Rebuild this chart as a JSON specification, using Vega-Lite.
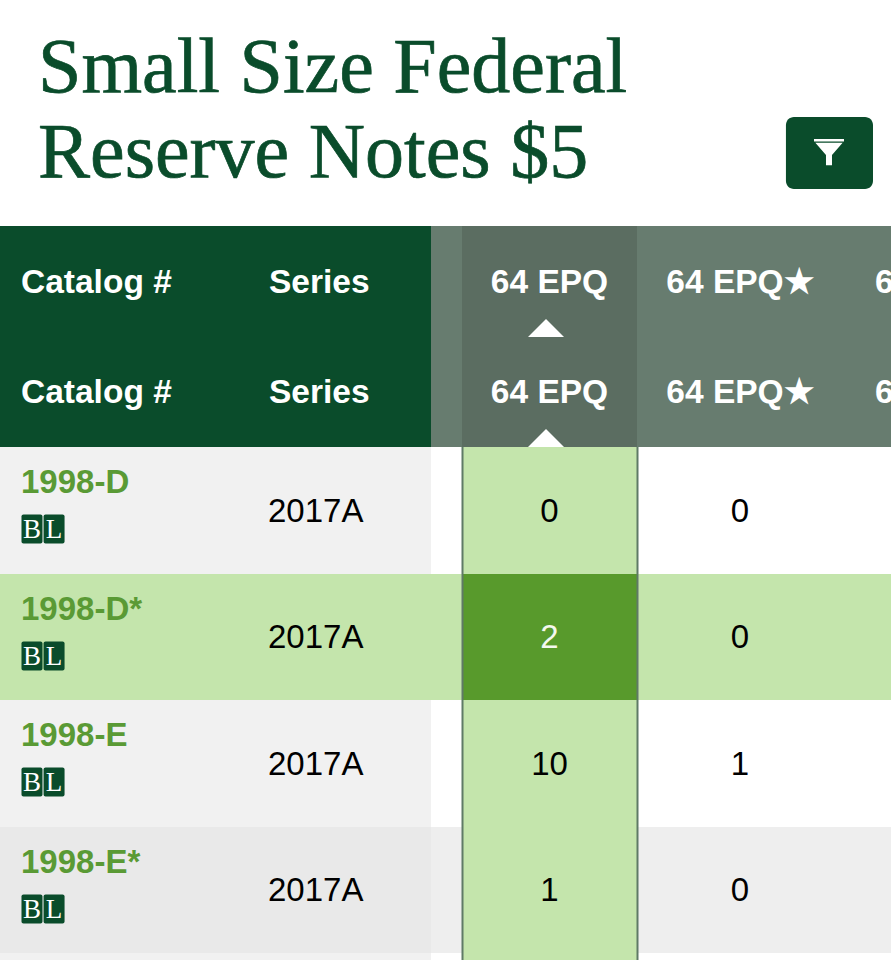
{
  "$schema": "https://vega.github.io/schema/vega-lite/v6.json",
  "width": 891,
  "height": 960,
  "padding": 0,
  "autosize": "none",
  "background": "white",
  "config": {"view": {"stroke": null}, "axis": {"disable": true}, "legend": {"disable": true}},
  "resolve": {"scale": {"color": "independent"}},
  "datasets": {
    "heading": [
      {"c": 0, "r": 0.407, "text": "Small Size Federal"},
      {"c": 0, "r": 0.783, "text": "Reserve Notes $5"}
    ],
    "filterButton": [
      {"c0": 4.723, "c1": 5.625, "r0": 0.518, "r1": 0.836, "c": 4.932, "r": 0.673}
    ],
    "cells": [
      {"c0": 0, "c1": 2, "r0": 1, "r1": 3, "state": "frozen header"},
      {"c0": 2, "c1": 3, "r0": 1, "r1": 3, "state": "header"},
      {"c0": 3, "c1": 4, "r0": 1, "r1": 3, "state": "sorted header"},
      {"c0": 4, "c1": 6, "r0": 1, "r1": 3, "state": "header"},
      {"c0": 0, "c1": 2, "r0": 3, "r1": 4, "state": "frozen"},
      {"c0": 3, "c1": 4, "r0": 3, "r1": 4, "state": "sorted"},
      {"c0": 0, "c1": 2, "r0": 4, "r1": 5, "state": "sorted"},
      {"c0": 2, "c1": 3, "r0": 4, "r1": 5, "state": "sorted"},
      {"c0": 3, "c1": 4, "r0": 4, "r1": 5, "state": "picked"},
      {"c0": 4, "c1": 6, "r0": 4, "r1": 5, "state": "sorted"},
      {"c0": 0, "c1": 2, "r0": 5, "r1": 6, "state": "frozen"},
      {"c0": 3, "c1": 4, "r0": 5, "r1": 6, "state": "sorted"},
      {"c0": 0, "c1": 2, "r0": 6, "r1": 7, "state": "frozen striped"},
      {"c0": 2, "c1": 3, "r0": 6, "r1": 7, "state": "striped"},
      {"c0": 3, "c1": 4, "r0": 6, "r1": 7, "state": "sorted"},
      {"c0": 4, "c1": 6, "r0": 6, "r1": 7, "state": "striped"},
      {"c0": 0, "c1": 2, "r0": 7, "r1": 8, "state": "frozen"},
      {"c0": 3, "c1": 4, "r0": 7, "r1": 8, "state": "sorted"}
    ],
    "columnEdges": [
      {"c": 3, "r0": 3, "r1": 8, "side": "left"},
      {"c": 4, "r0": 3, "r1": 8, "side": "right"}
    ],
    "headerLeft": [
      {"c": 0, "r": 1.5, "text": "Catalog #"},
      {"c": 1, "r": 1.5, "text": "Series"},
      {"c": 5.23, "r": 1.5, "text": "6"},
      {"c": 0, "r": 2.5, "text": "Catalog #"},
      {"c": 1, "r": 2.5, "text": "Series"},
      {"c": 5.23, "r": 2.5, "text": "6"}
    ],
    "headerCentre": [
      {"c": 3.5, "r": 1.5, "text": "64 EPQ"},
      {"c": 4.5, "r": 1.5, "text": "64 EPQ★"},
      {"c": 3.5, "r": 2.5, "text": "64 EPQ"},
      {"c": 4.5, "r": 2.5, "text": "64 EPQ★"}
    ],
    "sortArrows": [
      {"c": 3.5, "r": 2},
      {"c": 3.5, "r": 3}
    ],
    "catalog": [
      {"c": 0, "r": 3, "text": "1998-D"},
      {"c": 0, "r": 4, "text": "1998-D*"},
      {"c": 0, "r": 5, "text": "1998-E"},
      {"c": 0, "r": 6, "text": "1998-E*"}
    ],
    "badges": [
      {"c": 0.129, "r": 3, "letter": "B"},
      {"c": 0.218, "r": 3, "letter": "L"},
      {"c": 0.129, "r": 4, "letter": "B"},
      {"c": 0.218, "r": 4, "letter": "L"},
      {"c": 0.129, "r": 5, "letter": "B"},
      {"c": 0.218, "r": 5, "letter": "L"},
      {"c": 0.129, "r": 6, "letter": "B"},
      {"c": 0.218, "r": 6, "letter": "L"}
    ],
    "series": [
      {"c": 1, "r": 3.5, "text": "2017A"},
      {"c": 1, "r": 4.5, "text": "2017A"},
      {"c": 1, "r": 5.5, "text": "2017A"},
      {"c": 1, "r": 6.5, "text": "2017A"}
    ],
    "counts": [
      {"c": 3.5, "r": 3.5, "text": "0", "tone": "dark"},
      {"c": 4.5, "r": 3.5, "text": "0", "tone": "dark"},
      {"c": 3.5, "r": 4.5, "text": "2", "tone": "light"},
      {"c": 4.5, "r": 4.5, "text": "0", "tone": "dark"},
      {"c": 3.5, "r": 5.5, "text": "10", "tone": "dark"},
      {"c": 4.5, "r": 5.5, "text": "1", "tone": "dark"},
      {"c": 3.5, "r": 6.5, "text": "1", "tone": "dark"},
      {"c": 4.5, "r": 6.5, "text": "0", "tone": "dark"}
    ]
  },
  "layer": [
    {
      "data": {"name": "cells"},
      "mark": {"type": "rect"},
      "encoding": {
        "x": {"field": "c0", "type": "quantitative", "scale": {"domain": [0, 1, 2, 3, 4, 5, 6], "range": [0, 248, 431, 462, 637, 843, 891], "nice": false, "zero": false}},
        "x2": {"field": "c1"},
        "y": {"field": "r0", "type": "quantitative", "scale": {"domain": [0, 1, 2, 3, 4, 5, 6, 7, 8], "range": [0, 226, 337, 447, 574, 700, 827, 953, 960], "nice": false, "zero": false}},
        "y2": {"field": "r1"},
        "color": {
          "field": "state",
          "type": "nominal",
          "scale": {
            "domain": ["frozen header", "header", "sorted header", "frozen", "frozen striped", "striped", "sorted", "picked"],
            "range": ["#0a4c2b", "#677c6f", "#5b6d61", "#f1f1f1", "#e9e9e9", "#eeeeee", "#c4e5ac", "#589a2c"]
          }
        }
      }
    },
    {
      "data": {"name": "columnEdges"},
      "mark": {"type": "rule", "color": "#5f7a66", "strokeWidth": 2, "xOffset": 0.5},
      "encoding": {
        "x": {"field": "c", "type": "quantitative"},
        "y": {"field": "r0", "type": "quantitative"},
        "y2": {"field": "r1"}
      }
    },
    {
      "data": {"name": "heading"},
      "mark": {"type": "text", "align": "left", "baseline": "alphabetic", "dx": 38, "font": "Liberation Serif", "fontSize": 78, "color": "#0a4c2b", "stroke": "#0a4c2b", "strokeWidth": 0.7},
      "encoding": {
        "x": {"field": "c", "type": "quantitative"},
        "y": {"field": "r", "type": "quantitative"},
        "text": {"field": "text"}
      }
    },
    {
      "data": {"name": "filterButton"},
      "mark": {"type": "rect", "color": "#0a4c2b", "cornerRadius": 8},
      "encoding": {
        "x": {"field": "c0", "type": "quantitative"},
        "x2": {"field": "c1"},
        "y": {"field": "r0", "type": "quantitative"},
        "y2": {"field": "r1"}
      }
    },
    {
      "data": {"name": "filterButton"},
      "mark": {
        "type": "point",
        "filled": true,
        "opacity": 1,
        "color": "white",
        "size": 900,
        "shape": "M-1,-0.87L1,-0.87L1,-0.7L-1,-0.7ZM-0.91,-0.63L0.91,-0.63L0.2,0.2L0.2,0.87L-0.2,0.87L-0.2,0.2Z"
      },
      "encoding": {
        "x": {"field": "c", "type": "quantitative"},
        "y": {"field": "r", "type": "quantitative"}
      }
    },
    {
      "data": {"name": "headerLeft"},
      "mark": {"type": "text", "align": "left", "baseline": "middle", "dx": 21, "yOffset": 1, "font": "Liberation Sans", "fontWeight": "bold", "fontSize": 33.5, "color": "white"},
      "encoding": {
        "x": {"field": "c", "type": "quantitative"},
        "y": {"field": "r", "type": "quantitative"},
        "text": {"field": "text"}
      }
    },
    {
      "data": {"name": "headerCentre"},
      "mark": {"type": "text", "align": "center", "baseline": "middle", "yOffset": 1, "font": "Liberation Sans", "fontWeight": "bold", "fontSize": 33.5, "color": "white"},
      "encoding": {
        "x": {"field": "c", "type": "quantitative"},
        "y": {"field": "r", "type": "quantitative"},
        "text": {"field": "text"}
      }
    },
    {
      "data": {"name": "sortArrows"},
      "mark": {"type": "point", "filled": true, "opacity": 1, "color": "white", "size": 1296, "shape": "M-1,0L0,-1L1,0Z", "xOffset": -3.5},
      "encoding": {
        "x": {"field": "c", "type": "quantitative"},
        "y": {"field": "r", "type": "quantitative"}
      }
    },
    {
      "data": {"name": "catalog"},
      "mark": {"type": "text", "align": "left", "baseline": "middle", "dx": 21, "yOffset": 36, "font": "Liberation Sans", "fontWeight": "bold", "fontSize": 33, "color": "#5a9a35"},
      "encoding": {
        "x": {"field": "c", "type": "quantitative"},
        "y": {"field": "r", "type": "quantitative"},
        "text": {"field": "text"}
      }
    },
    {
      "data": {"name": "badges"},
      "mark": {"type": "rect", "width": 21, "height": 29, "cornerRadius": 2, "yOffset": 82, "color": "#0a4c2b"},
      "encoding": {
        "x": {"field": "c", "type": "quantitative"},
        "y": {"field": "r", "type": "quantitative"}
      }
    },
    {
      "data": {"name": "badges"},
      "mark": {"type": "text", "align": "center", "baseline": "middle", "yOffset": 83, "font": "Liberation Serif", "fontSize": 27, "color": "white"},
      "encoding": {
        "x": {"field": "c", "type": "quantitative"},
        "y": {"field": "r", "type": "quantitative"},
        "text": {"field": "letter"}
      }
    },
    {
      "data": {"name": "series"},
      "mark": {"type": "text", "align": "left", "baseline": "middle", "dx": 20, "yOffset": 1, "font": "Liberation Sans", "fontSize": 33, "color": "black"},
      "encoding": {
        "x": {"field": "c", "type": "quantitative"},
        "y": {"field": "r", "type": "quantitative"},
        "text": {"field": "text"}
      }
    },
    {
      "data": {"name": "counts"},
      "mark": {"type": "text", "align": "center", "baseline": "middle", "yOffset": 1, "font": "Liberation Sans", "fontSize": 33},
      "encoding": {
        "x": {"field": "c", "type": "quantitative"},
        "y": {"field": "r", "type": "quantitative"},
        "text": {"field": "text"},
        "color": {"field": "tone", "type": "nominal", "scale": {"domain": ["dark", "light"], "range": ["black", "#f4f8ef"]}}
      }
    }
  ]
}
